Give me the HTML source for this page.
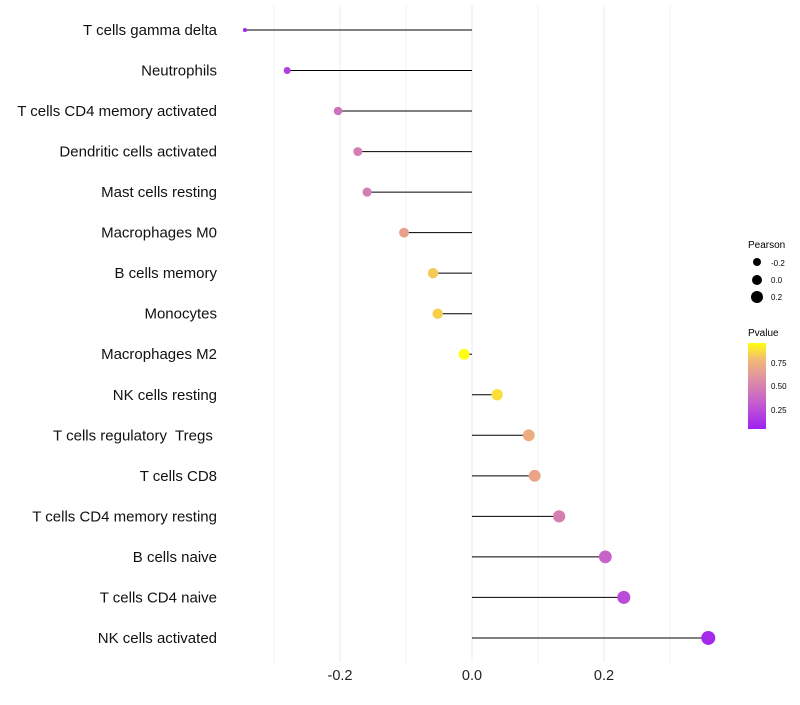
<!DOCTYPE html>
<html><head><meta charset="utf-8"><style>
body{margin:0;background:#fff;font-family:"Liberation Sans",sans-serif}
text{white-space:pre}
</style></head><body>
<svg id="chart" width="800" height="700">
<defs><linearGradient id="pg" x1="0" y1="1" x2="0" y2="0">
<stop offset="0" stop-color="#a020f0"/><stop offset="0.3" stop-color="#c45cd0"/><stop offset="0.55" stop-color="#dc8aa8"/><stop offset="0.8" stop-color="#f2b878"/><stop offset="1" stop-color="#ffff10"/></linearGradient></defs>
<g id="grid"></g>
<g id="marks"></g>
<g id="labels"></g>
<g id="xt"></g>
<g font-size="10">
<text x="748" y="248">Pearson</text>
<circle cx="757" cy="262" r="4"/><text x="771" y="266" font-size="8">-0.2</text>
<circle cx="757" cy="280" r="5"/><text x="771" y="283" font-size="8">0.0</text>
<circle cx="757" cy="297" r="6"/><text x="771" y="300" font-size="8">0.2</text>
</g>
<g font-size="10">
<text x="748" y="336">Pvalue</text>
<rect x="748" y="343" width="18" height="86" fill="url(#pg)"/>
<text x="771" y="366" font-size="8">0.75</text>
<text x="771" y="389" font-size="8">0.50</text>
<text x="771" y="413" font-size="8">0.25</text>
</g>
</svg>
<script>
const cells=["T cells gamma delta","Neutrophils","T cells CD4 memory activated","Dendritic cells activated","Mast cells resting","Macrophages M0","B cells memory","Monocytes","Macrophages M2","NK cells resting","T cells regulatory  Tregs ","T cells CD8","T cells CD4 memory resting","B cells naive","T cells CD4 naive","NK cells activated"];
const pearson=[-0.344,-0.280,-0.203,-0.173,-0.159,-0.103,-0.059,-0.052,-0.012,0.038,0.086,0.095,0.132,0.202,0.230,0.358];
const pvalue=[0.04,0.15,0.38,0.45,0.45,0.65,0.82,0.84,0.97,0.88,0.72,0.68,0.45,0.3,0.2,0.06];
const xticks=[-0.2,0,0.2];
const xminor=[-0.3,-0.1,0.1,0.3];
const NS="http://www.w3.org/2000/svg";
const X=v=>472+v*660;
const Y=i=>30+i*40.53;
function mk(t,a,p){const e=document.createElementNS(NS,t);for(const k in a)e.setAttribute(k,a[k]);p.appendChild(e);return e;}
function hex(h){return [1,3,5].map(i=>parseInt(h.substr(i,2),16));}
const stops=[[0.02,"#a020f0"],[0.27,"#c45cd0"],[0.5,"#d888a8"],[0.75,"#f0b078"],[0.97,"#ffff10"]];
function col(p){if(p<=stops[0][0])return stops[0][1];for(let i=1;i<stops.length;i++){if(p<=stops[i][0]){const t=(p-stops[i-1][0])/(stops[i][0]-stops[i-1][0]);const a=hex(stops[i-1][1]),b=hex(stops[i][1]);return "rgb("+a.map((v,j)=>Math.round(v+(b[j]-v)*t)).join(",")+")";}}return stops[stops.length-1][1];}
const grid=document.getElementById('grid'),marks=document.getElementById('marks'),labels=document.getElementById('labels'),xt=document.getElementById('xt');
xticks.concat(xminor).forEach(v=>{const l=mk('line',{x1:X(v),x2:X(v),y1:5,y2:662,stroke:'#ebebeb','stroke-width':xticks.includes(v)?1:0.6},grid);

});
xticks.forEach(v=>{const t=mk('text',{x:X(v),y:680,'text-anchor':'middle','font-size':14.5,fill:'#222'},xt);t.textContent=v.toFixed(1);

});
const mn=Math.min(...pearson),mx=Math.max(...pearson);
cells.forEach((c,i)=>{
const t=mk('text',{x:217,y:Y(i)+5,'text-anchor':'end','font-size':15,fill:'#111'},labels);t.textContent=c;


const l=mk('line',{x1:X(0),x2:X(pearson[i]),y1:Y(i),y2:Y(i),stroke:'#000','stroke-width':1},marks);


const r=2+Math.sqrt((pearson[i]-mn)/(mx-mn))*5;
const p=mk('circle',{cx:X(pearson[i]),cy:Y(i),r:r,fill:col(pvalue[i])},marks);


});
</script>
</body></html>
